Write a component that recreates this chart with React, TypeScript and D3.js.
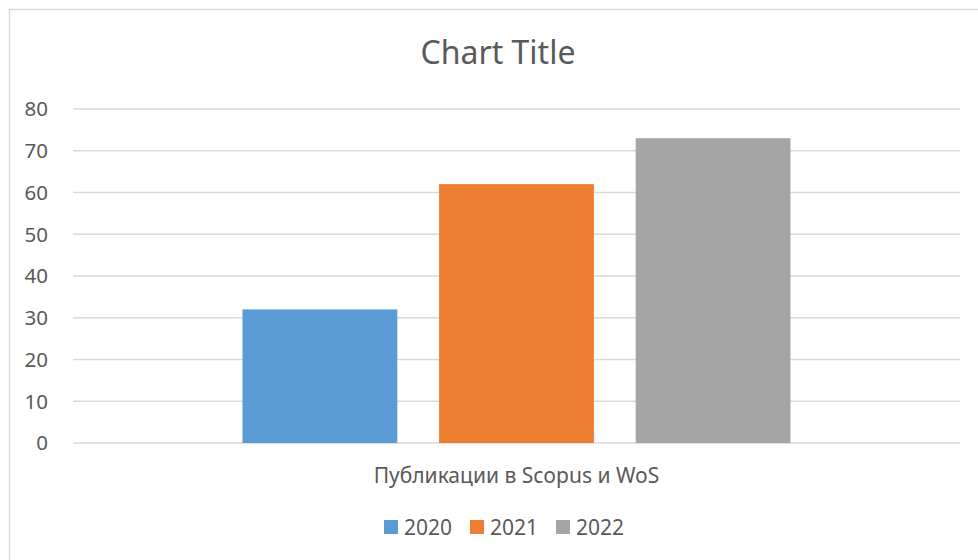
import React from 'react';
import * as d3 from 'd3';

const categories = ['Публикации в Scopus и WoS'];
const years = ['2020', '2021', '2022'];
const values = [32, 62, 73];
const colors = ['#5B9BD5', '#ED7D31', '#A5A5A5'];
const yMax = 80;

const W = 978;
const H = 560;
const plot = { left: 73, right: 960, top: 109, bottom: 443 };
const font = '"Noto Sans", "Open Sans", sans-serif';
const textColor = '#595959';
const gridColor = '#D9D9D9';

// Excel style column spacing
const gapWidth = 2.19;
const overlap = -0.27;

// chart area runs past the right edge of the window, so its centre is off W/2
const areaCenter = 498;

const App = () => {
  const y = d3.scaleLinear().domain([0, yMax]).range([plot.bottom, plot.top]);
  const x0 = d3.scaleBand().domain(categories).range([plot.left, plot.right]);

  const catW = x0.bandwidth();
  const n = years.length;
  const barW = catW / (n + gapWidth - (n - 1) * overlap);
  const step = barW * (1 - overlap);
  const groupW = barW + step * (n - 1);

  const ticks = y.ticks(8);

  // legend layout
  const legendY = 527;
  const legendItems = years.map((yr, i) => ({ yr, color: colors[i] }));
  const itemW = 86;
  const legendStart = 384;

  return (
    <svg
      width={W}
      height={H}
      style={{ position: 'absolute', left: 0, top: 0, background: '#fff' }}
    >
      <rect x={9.5} y={9.5} width={W + 20} height={H + 20} fill="#fff" stroke={gridColor} strokeWidth={1.5} />

      <text x={areaCenter} y={64} textAnchor="middle" fontFamily={font} fontSize={32} fill={textColor}>
        Chart Title
      </text>

      {/* grid + y labels */}
      {ticks.map(t => (
        <g key={t}>
          <line x1={plot.left} x2={plot.right} y1={y(t)} y2={y(t)} stroke={gridColor} strokeWidth={1.5} />
          <text x={48} y={y(t)} dy="0.36em" textAnchor="end" fontFamily={font} fontSize={20.5} fill={textColor}>
            {t}
          </text>
        </g>
      ))}

      {/* bars */}
      {categories.map(c => {
        const gx = (x0(c) ?? 0) + (catW - groupW) / 2;
        return (
          <g key={c}>
            {values.map((v, i) => (
              <rect
                key={years[i]}
                x={gx + i * step}
                y={y(v)}
                width={barW}
                height={y(0) - y(v)}
                fill={colors[i]}
              />
            ))}
            <text
              x={(x0(c) ?? 0) + catW / 2}
              y={483}
              textAnchor="middle"
              fontFamily={font}
              fontSize={21}
              fill={textColor}
            >
              {c}
            </text>
          </g>
        );
      })}

      {/* legend */}
      {legendItems.map((d, i) => {
        const lx = legendStart + i * itemW;
        return (
          <g key={d.yr} transform={`translate(${lx},${legendY})`}>
            <rect x={0} y={-7} width={14} height={14} fill={d.color} />
            <text x={20} y={0} dy="0.36em" fontFamily={font} fontSize={21} fill={textColor}>
              {d.yr}
            </text>
          </g>
        );
      })}
    </svg>
  );
};

export default App;
